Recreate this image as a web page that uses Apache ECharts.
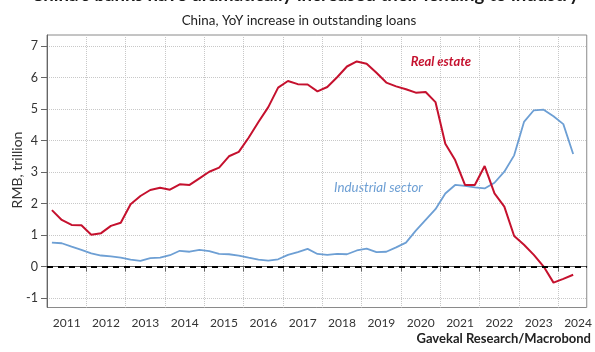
<!DOCTYPE html>
<html><head><meta charset="utf-8">
<script src="https://cdn.jsdelivr.net/npm/echarts@6/dist/echarts.min.js"></script>
<style>html,body{margin:0;padding:0;background:#fff}#c{width:595px;height:352px}</style>
</head><body><div id="c"></div>
<script>
const titleText = "China’s banks have dramatically increased their lending to industry";
const subtitleText = "China, YoY increase in outstanding loans";
const yAxisName = "RMB, trillion";
const sourceText = "Gavekal Research/Macrobond";
const realEstateName = "Real estate";
const industrialName = "Industrial sector";

// quarterly observations, 2011Q1 .. 2024Q2
const quarters = [];
for (let y = 2011; y <= 2024; y++) for (let q = 1; q <= 4; q++) quarters.push(y + "Q" + q);
quarters.length = 54;

const realEstate = [1.79,1.48,1.32,1.31,1.01,1.06,1.29,1.39,1.98,2.24,2.43,2.50,2.44,2.61,
  2.59,2.80,3.01,3.14,3.50,3.64,4.09,4.59,5.06,5.68,5.89,5.79,5.78,5.56,
  5.70,6.01,6.35,6.51,6.44,6.15,5.84,5.72,5.63,5.52,5.54,5.22,3.90,3.38,
  2.59,2.59,3.19,2.32,1.90,0.97,0.69,0.37,0.00,-0.51,-0.39,-0.26];
const industrial = [0.76,0.74,0.63,0.53,0.42,0.35,0.32,0.28,0.22,0.18,0.27,0.28,0.36,0.50,
  0.47,0.53,0.49,0.40,0.39,0.35,0.28,0.22,0.19,0.23,0.37,0.46,0.56,0.40,
  0.37,0.40,0.39,0.51,0.57,0.46,0.47,0.61,0.76,1.14,1.48,1.82,2.32,2.59,
  2.56,2.51,2.48,2.66,3.01,3.53,4.59,4.96,4.98,4.77,4.52,3.57];

const yearTicks = [2011,2012,2013,2014,2015,2016,2017,2018,2019,2020,2021,2022,2023,2024];
const yTicks = [-1,0,1,2,3,4,5,6,7];

const FONT = 'Lato';
const RED = '#c5112e';
const BLUE = '#6d9fd4';

function qToX(s) {
  const y = parseInt(s.slice(0, 4), 10), q = parseInt(s.slice(5), 10);
  return y + (q - 1) / 4 + 0.125;
}
const reData = quarters.map((q, i) => [qToX(q), realEstate[i]]);
const inData = quarters.map((q, i) => [qToX(q), industrial[i]]);

const chart = echarts.init(document.getElementById('c'), null, {renderer: 'canvas'});
chart.setOption({
  animation: false,
  backgroundColor: '#fff',
  grid: {left: 47, right: 7, top: 35, bottom: 44.5, show: true, borderColor: '#8a8a8a', borderWidth: 1, containLabel: false},
  xAxis: {
    type: 'value', min: 2011, max: 2024.72,
    axisLine: {show: true, lineStyle: {color: '#555', width: 1}},
    axisTick: {show: true, length: 5, customValues: yearTicks, lineStyle: {color: '#666'}},
    axisLabel: {customValues: yearTicks.map(y => y + 0.5), formatter: v => String(Math.floor(v)),
      fontFamily: FONT, fontSize: 12, color: '#333', margin: 10},
    splitLine: {show: true, lineStyle: {color: '#c8c8c8', type: 'dotted', width: 1}}
  },
  yAxis: {
    type: 'value', min: -1.3, max: 7.35,
    axisLine: {show: true, lineStyle: {color: '#666', width: 1}},
    axisTick: {show: true, length: 6, customValues: yTicks, lineStyle: {color: '#666'}},
    axisLabel: {customValues: yTicks, formatter: v => String(v), fontFamily: FONT, fontSize: 12.5, color: '#333', margin: 9},
    splitLine: {show: true, lineStyle: {color: '#c8c8c8', type: 'dotted', width: 1}}
  },
  series: [
    {type: 'line', name: industrialName, data: inData, showSymbol: false, symbol: 'none',
     lineStyle: {color: BLUE, width: 1.8}, z: 3,
     markLine: {silent: true, symbol: ['none', 'none'], label: {show: false},
       lineStyle: {color: '#000', type: [6, 5], width: 2}, data: [{yAxis: 0}]}},
    {type: 'line', name: realEstateName, data: reData, showSymbol: false, symbol: 'none',
     lineStyle: {color: RED, width: 2}, z: 4}
  ],
  graphic: [
    {type: 'text', x: 305, y: 4.5, style: {text: titleText, fontFamily: FONT, fontWeight: 'bold', fontSize: 18.6, fill: '#1a1a1a', align: 'center', verticalAlign: 'bottom'}},
    {type: 'text', x: 299, y: 20.5, style: {text: subtitleText, fontFamily: FONT, fontSize: 13.4, fill: '#222', align: 'center', verticalAlign: 'middle'}},
    {type: 'text', x: 17, y: 170, rotation: Math.PI / 2, style: {text: yAxisName, fontFamily: FONT, fontSize: 14, fill: '#333', align: 'center', verticalAlign: 'middle'}},
    {type: 'text', x: 591, y: 339, style: {text: sourceText, fontFamily: FONT, fontWeight: 'bold', fontSize: 13, fill: '#222', align: 'right', verticalAlign: 'middle'}},
    {type: 'text', x: 441, y: 62, style: {text: realEstateName, fontFamily: FONT, fontWeight: 'bold', fontStyle: 'italic', fontSize: 13, fill: RED, align: 'center', verticalAlign: 'middle'}},
    {type: 'text', x: 378.5, y: 188, style: {text: industrialName, fontFamily: FONT, fontStyle: 'italic', fontSize: 13.3, fill: BLUE, align: 'center', verticalAlign: 'middle'}}
  ]
});
</script></body></html>
